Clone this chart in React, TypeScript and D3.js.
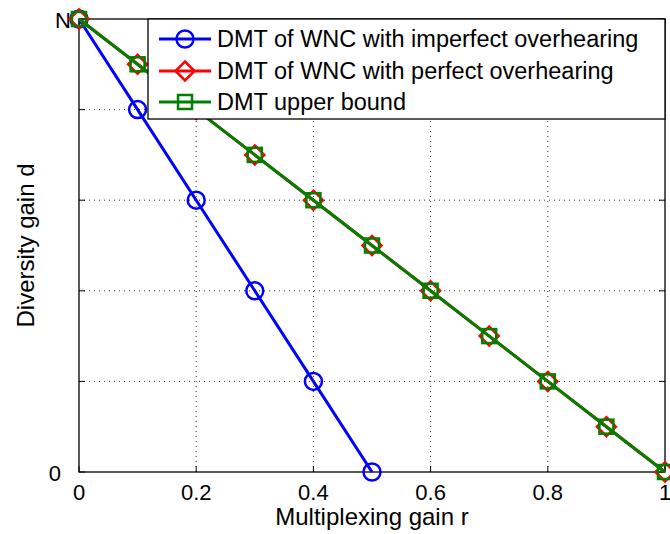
import React from 'react';
import * as d3 from 'd3';

// r values and diversity gain (as fraction of N)
const rImperfect = [0, 0.1, 0.2, 0.3, 0.4, 0.5];
const dImperfect = [1, 0.8, 0.6, 0.4, 0.2, 0];
const rPerfect = [0, 0.1, 0.2, 0.3, 0.4, 0.5, 0.6, 0.7, 0.8, 0.9, 1];
const dPerfect = [1, 0.9, 0.8, 0.7, 0.6, 0.5, 0.4, 0.3, 0.2, 0.1, 0];
const dUpper = [1, 0.9, 0.8, 0.7, 0.6, 0.5, 0.4, 0.3, 0.2, 0.1, 0];

const xTicks = [0, 0.2, 0.4, 0.6, 0.8, 1];
const xTickLabels = ['0', '0.2', '0.4', '0.6', '0.8', '1'];
const yTicks = [0, 0.2, 0.4, 0.6, 0.8, 1];
const yTickLabels = ['0', '', '', '', '', 'N'];

const legendLabels = [
  'DMT of WNC with imperfect overhearing',
  'DMT of WNC with perfect overhearing',
  'DMT upper bound',
];

const W = 670;
const H = 534;
const margin = { top: 19, right: 5, bottom: 62, left: 79 };
const font = 'Liberation Sans, Arial, sans-serif';

type Series = { xs: number[]; ys: number[]; color: string; marker: 'circle' | 'diamond' | 'square' };

const series: Series[] = [
  { xs: rImperfect, ys: dImperfect, color: '#0000ff', marker: 'circle' },
  { xs: rPerfect, ys: dPerfect, color: '#ff0000', marker: 'diamond' },
  { xs: rPerfect, ys: dUpper, color: '#008000', marker: 'square' },
];

const Marker = ({ kind, x, y, color }: { kind: string; x: number; y: number; color: string }) => {
  if (kind === 'circle') {
    return <circle cx={x} cy={y} r={8.5} fill="none" stroke={color} strokeWidth={2.5} />;
  }
  if (kind === 'diamond') {
    const s = 9.5;
    return (
      <path
        d={`M${x},${y - s}L${x + s},${y}L${x},${y + s}L${x - s},${y}Z`}
        fill="none"
        stroke={color}
        strokeWidth={2.5}
      />
    );
  }
  const s = 7;
  return <rect x={x - s} y={y - s} width={2 * s} height={2 * s} fill="none" stroke={color} strokeWidth={2.5} />;
};

const App = () => {
  const innerW = W - margin.left - margin.right;
  const innerH = H - margin.top - margin.bottom;
  const x = d3.scaleLinear().domain([0, 1]).range([margin.left, margin.left + innerW]);
  const y = d3.scaleLinear().domain([0, 1]).range([margin.top + innerH, margin.top]);
  const x0 = x(0), x1 = x(1), y0 = y(0), y1 = y(1);
  const line = d3.line<[number, number]>().x(d => x(d[0])).y(d => y(d[1]));

  const lx = 148, ly = y1, lw = x1 - lx, lh = 100;
  const rowY = [39, 71, 102];

  return (
    <svg width={W} height={H} style={{ position: 'absolute', left: 0, top: 0, background: '#fff' }}>
      <rect width={W} height={H} fill="#fff" />
      {/* grid */}
      {xTicks.slice(1, -1).map(t => (
        <line key={'gx' + t} x1={x(t)} x2={x(t)} y1={y0} y2={y1} stroke="#000" strokeWidth={0.8} strokeDasharray="1,4" />
      ))}
      {yTicks.slice(1, -1).map(t => (
        <line key={'gy' + t} x1={x0} x2={x1} y1={y(t)} y2={y(t)} stroke="#000" strokeWidth={0.8} strokeDasharray="1,4" />
      ))}
      {/* ticks */}
      {xTicks.map(t => (
        <g key={'tx' + t}>
          <line x1={x(t)} x2={x(t)} y1={y0} y2={y0 - 6} stroke="#000" />
          <line x1={x(t)} x2={x(t)} y1={y1} y2={y1 + 6} stroke="#000" />
        </g>
      ))}
      {yTicks.map(t => (
        <g key={'ty' + t}>
          <line x1={x0} x2={x0 + 6} y1={y(t)} y2={y(t)} stroke="#000" />
          <line x1={x1} x2={x1 - 6} y1={y(t)} y2={y(t)} stroke="#000" />
        </g>
      ))}
      <rect x={x0} y={y1} width={x1 - x0} height={y0 - y1} fill="none" stroke="#000" strokeWidth={1.3} />
      {/* tick labels */}
      {xTicks.map((t, i) => (
        <text key={'lx' + t} x={x(t)} y={y0 + 28} textAnchor="middle" fontFamily={font} fontSize={22}>
          {xTickLabels[i]}
        </text>
      ))}
      {yTicks.map((t, i) => (
        <text
          key={'ly' + t}
          x={yTickLabels[i] === 'N' ? x0 - 8 : x0 - 18}
          y={y(t) + 9}
          textAnchor="end"
          fontFamily={font}
          fontSize={22}
        >
          {yTickLabels[i]}
        </text>
      ))}
      <text x={(x0 + x1) / 2} y={y0 + 53} textAnchor="middle" fontFamily={font} fontSize={24}>
        Multiplexing gain r
      </text>
      <text
        transform={`translate(34,${(y0 + y1) / 2}) rotate(-90)`}
        textAnchor="middle"
        fontFamily={font}
        fontSize={24}
      >
        Diversity gain d
      </text>
      {/* series */}
      {series.map((s, si) => {
        const pts = s.xs.map((v, i) => [v, s.ys[i]] as [number, number]);
        return (
          <g key={'s' + si}>
            <path d={line(pts) ?? ''} fill="none" stroke={s.color} strokeWidth={3} />
            {pts.map((p, i) => (
              <Marker key={i} kind={s.marker} x={x(p[0])} y={y(p[1])} color={s.color} />
            ))}
          </g>
        );
      })}
      {/* legend */}
      <rect x={lx} y={ly} width={lw} height={lh} fill="#fff" stroke="#000" strokeWidth={1.3} />
      {series.map((s, i) => (
        <g key={'lg' + i}>
          <line x1={lx + 11} x2={lx + 63} y1={rowY[i]} y2={rowY[i]} stroke={s.color} strokeWidth={3} />
          <Marker kind={s.marker} x={lx + 37} y={rowY[i]} color={s.color} />
          <text x={lx + 69} y={rowY[i] + 8} fontFamily={font} fontSize={23.5}>
            {legendLabels[i]}
          </text>
        </g>
      ))}
    </svg>
  );
};

export default App;
